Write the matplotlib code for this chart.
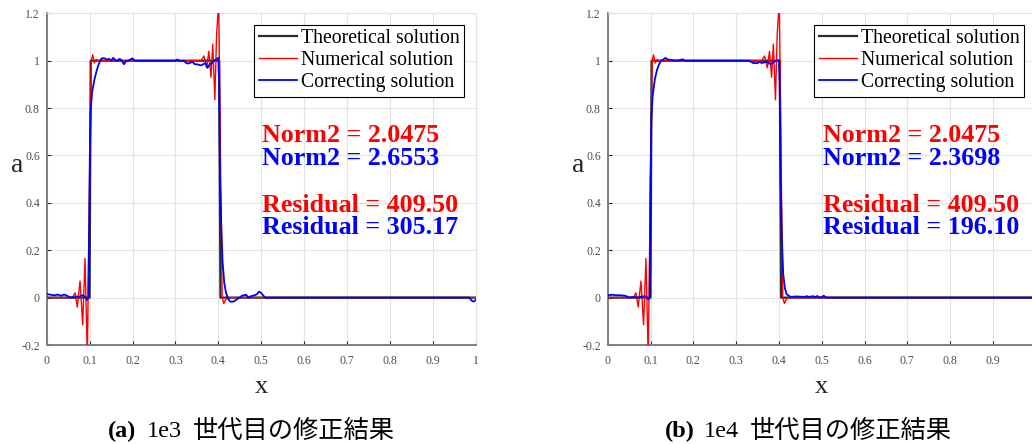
import matplotlib
matplotlib.use("Agg")
import matplotlib.pyplot as plt

# ---------------- data ----------------
theo_x = [0.0, 0.1, 0.1025, 0.402, 0.405, 1.0]
theo_y = [0.0, 0.0, 1.0, 1.0, 0.0, 0.0]

num_x = [0.0, 0.06, 0.066, 0.0714, 0.0777, 0.0839, 0.0893, 0.0947, 0.1, 0.104, 0.107,
         0.111, 0.115, 0.12, 0.36, 0.3667, 0.373, 0.378, 0.383, 0.387, 0.392, 0.396,
         0.401, 0.405, 0.409, 0.413, 0.418, 0.425, 1.0]
num_y = [0.0, 0.0, 0.02, -0.04, 0.07, -0.115, 0.165, -0.25, 0.5, 1.0, 1.025,
         0.99, 1.005, 1.0, 1.0, 1.02, 0.97, 1.04, 0.93, 1.07, 0.835, 1.11,
         1.25, 0.6, 0.0, -0.025, -0.005, 0.0, 0.0]

cor1_x = [0.0, 0.01, 0.015, 0.02, 0.025, 0.03, 0.035, 0.04, 0.045, 0.05, 0.055, 0.06, 0.065,
          0.07, 0.075, 0.08, 0.085, 0.09, 0.094, 0.097, 0.099, 0.1005, 0.1025, 0.106, 0.111,
          0.116, 0.1203, 0.125, 0.128, 0.135, 0.14, 0.145, 0.15, 0.155, 0.16, 0.165, 0.17,
          0.175, 0.18, 0.185, 0.19, 0.195, 0.2, 0.205, 0.3, 0.305, 0.31, 0.32, 0.325, 0.33,
          0.34, 0.345, 0.35, 0.36, 0.365, 0.37, 0.375, 0.38, 0.385, 0.39, 0.395, 0.4, 0.402,
          0.404, 0.407, 0.41, 0.414, 0.418, 0.423, 0.428, 0.435, 0.44, 0.445, 0.45, 0.455,
          0.46, 0.465, 0.47, 0.475, 0.48, 0.485, 0.49, 0.495, 0.5, 0.505, 0.51, 0.985, 0.99,
          0.995, 1.0]
cor1_y = [0.015, 0.012, 0.01, 0.01, 0.013, 0.01, 0.008, 0.013, 0.01, 0.005, 0.0, 0.003, 0.0,
          0.005, 0.003, 0.008, 0.01, 0.002, -0.01, 0.0, 0.3, 0.6, 0.79, 0.87, 0.918,
          0.955, 0.981, 1.0, 1.01, 1.01, 1.005, 1.008, 1.0, 1.012, 1.002, 1.0, 1.008,
          1.0, 0.985, 0.998, 1.0, 1.005, 1.01, 1.0, 1.0, 1.005, 0.998, 1.0, 0.99, 0.988,
          0.995, 0.985, 0.985, 0.98, 0.985, 0.99, 0.97, 0.985, 0.99, 1.0, 1.005, 1.012, 0.9,
          0.5, 0.3, 0.15, 0.06, 0.02, -0.005, -0.017, -0.017, -0.012, -0.005, 0.0, 0.008,
          0.01, 0.012, 0.0, 0.005, 0.008, 0.01, 0.015, 0.025, 0.02, 0.008, 0.0, 0.0, -0.012,
          -0.017, -0.01]

cor2_x = [0.0, 0.01, 0.02, 0.03, 0.04, 0.045, 0.05, 0.06, 0.07, 0.08, 0.09, 0.095, 0.098,
          0.1, 0.102, 0.105, 0.11, 0.115, 0.12, 0.125, 0.13, 0.135, 0.14, 0.15, 0.16, 0.17,
          0.175, 0.18, 0.33, 0.335, 0.34, 0.35, 0.355, 0.36, 0.37, 0.375, 0.38, 0.385, 0.39,
          0.395, 0.4, 0.402, 0.404, 0.407, 0.41, 0.414, 0.418, 0.425, 0.43, 0.44, 0.45, 0.46,
          0.465, 0.47, 0.48, 0.485, 0.49, 0.495, 0.5, 0.505, 0.51, 1.0]
cor2_y = [0.01, 0.012, 0.01, 0.01, 0.008, 0.005, 0.0, 0.003, 0.0, 0.005, 0.005, -0.008, 0.0,
          0.5, 0.75, 0.85, 0.92, 0.96, 0.985, 1.0, 1.005, 1.012, 1.005, 1.003, 1.0, 1.003,
          1.006, 1.0, 1.0, 0.995, 0.99, 0.99, 0.995, 0.99, 0.995, 0.993, 0.985, 0.99, 0.997,
          1.0, 1.003, 0.9, 0.5, 0.25, 0.1, 0.04, 0.015, 0.005, 0.003, 0.005, 0.004, 0.003,
          0.006, 0.003, 0.006, 0.002, 0.007, 0.0, 0.002, 0.008, 0.0, 0.0]

legend_labels = ["Theoretical solution", "Numerical solution", "Correcting solution"]
norm_num = "Norm2 = 2.0475"
res_num = "Residual = 409.50"
norm_cor = ["Norm2 = 2.6553", "Norm2 = 2.3698"]
res_cor = ["Residual = 305.17", "Residual = 196.10"]
panel_tags = ["(a)", "(b)"]
panel_gens = ["1e3", "1e4"]
panel_caps = ["世代目の修正結果", "世代目の修正結果"]

x_ticks = [0, 0.1, 0.2, 0.3, 0.4, 0.5, 0.6, 0.7, 0.8, 0.9, 1.0]
x_ticklabels = ["0", "0.1", "0.2", "0.3", "0.4", "0.5", "0.6", "0.7", "0.8", "0.9", "1"]
y_ticks = [-0.2, 0, 0.2, 0.4, 0.6, 0.8, 1.0, 1.2]
y_ticklabels = ["-0.2", "0", "0.2", "0.4", "0.6", "0.8", "1", "1.2"]

# ---------------- figure ----------------
W, H = 1032, 444
fig = plt.figure(figsize=(W / 100, H / 100), dpi=100)
serif = ["Liberation Serif", "DejaVu Serif"]
cjk = ["Noto Sans CJK JP", "Liberation Serif"]

ax_rects = [[46.7 / W, 99 / H, 429 / W, 331.7 / H],
            [607.7 / W, 99 / H, 428 / W, 331.7 / H]]
cors = [(cor1_x, cor1_y), (cor2_x, cor2_y)]
tag_px = [108, 665]
gen_px = [147, 704]
cap_px = [193, 750]
xlabel_px = [261, 821]

for i in range(2):
    ax = fig.add_axes(ax_rects[i])
    ax.plot(theo_x, theo_y, color="#2b2b2b", lw=1.6, label=legend_labels[0], zorder=3)
    ax.plot(num_x, num_y, color="#ff0000", lw=1.0, label=legend_labels[1], zorder=4)
    ax.plot(cors[i][0], cors[i][1], color="#0000ff", lw=1.3, label=legend_labels[2], zorder=5)
    ax.set_xlim(0, 1)
    ax.set_ylim(-0.2, 1.2)
    ax.set_xticks(x_ticks)
    # the right panel's last tick label lies outside the figure in the reference
    xl = x_ticklabels if i == 0 else x_ticklabels[:-1] + [""]
    ax.set_xticklabels(xl, family=serif, fontsize=8.5, color="#4d4d4d")
    ax.set_yticks(y_ticks)
    ax.set_yticklabels(y_ticklabels, family=serif, fontsize=8.5, color="#4d4d4d")
    ax.tick_params(direction="in", length=3, width=0.8, color="#262626", pad=5)
    ax.tick_params(axis="x", pad=7)
    ax.grid(True, color="#e3e3e3", lw=0.8)
    ax.set_axisbelow(True)
    for s in ["left", "bottom"]:
        ax.spines[s].set_color("#808080")
        ax.spines[s].set_linewidth(1.4)
    for s in ["top", "right"]:
        ax.spines[s].set_color("#e3e3e3")
        ax.spines[s].set_linewidth(0.8)
    leg = ax.legend(loc="upper right", bbox_to_anchor=(0.973, 0.965), borderaxespad=0,
                    prop={"family": serif, "size": 14.2}, fancybox=False, framealpha=1,
                    edgecolor="#000000", handlelength=1.95, handletextpad=0.2,
                    labelspacing=0.15, borderpad=0.22)
    leg.get_frame().set_linewidth(0.8)
    kw = dict(fontsize=18.7, fontweight="bold", family=serif, va="center", ha="left")
    ax.text(0.502, 0.686, norm_num, color="#ff0000", **kw)
    ax.text(0.502, 0.589, norm_cor[i], color="#0000ff", **kw)
    ax.text(0.502, 0.39, res_num, color="#ff0000", **kw)
    ax.text(0.502, 0.294, res_cor[i], color="#0000ff", **kw)

    fig.text((ax_rects[i][0] * W - 30) / W, 1 - 166 / H, "a", family=serif, fontsize=20,
             color="#262626", ha="center", va="center")
    fig.text(xlabel_px[i] / W, 1 - 387 / H, "x", family=serif, fontsize=19,
             color="#262626", ha="center", va="center")
    fig.text(tag_px[i] / W, 1 - 431 / H, panel_tags[i], family=serif, fontsize=17.5,
             fontweight="bold", ha="left", va="center")
    fig.text(gen_px[i] / W, 1 - 431 / H, panel_gens[i], family=serif, fontsize=17.5,
             ha="left", va="center")
    fig.text(cap_px[i] / W, 1 - 431 / H, panel_caps[i], family=cjk, fontsize=18.2,
             ha="left", va="center")

fig.savefig("out.png", dpi=100)
